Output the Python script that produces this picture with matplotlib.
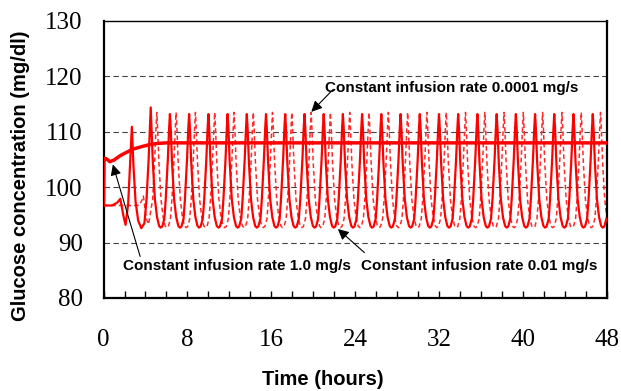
import numpy as np
import matplotlib
matplotlib.use('Agg')
import matplotlib.pyplot as plt

# 1.0 mg/s : smooth rise to steady state
t_10 = [0.0, 0.05, 0.1, 0.3, 0.6, 1.0, 1.6, 2.2, 2.85, 3.6, 4.4, 5.2, 6.0, 8.0, 48.0]
g_10 = [96.7, 104.8, 105.2, 105.1, 104.6, 104.9, 105.7, 106.3, 106.9, 107.3, 107.7, 107.9, 108.0, 108.0, 108.0]

# 0.01 mg/s : start-up transient, then oscillation
t_001_start = [0.0, 0.8, 1.3, 1.6, 1.9, 2.1, 2.35, 2.55, 2.7, 2.85, 3.05, 3.3, 3.6, 3.9]
g_001_start = [96.7, 96.7, 97.2, 97.9, 94.8, 93.2, 97.0, 105.0, 110.9, 104.0, 97.5, 94.0, 92.6, 93.5]
peaks_001 = [4.5, 6.33, 8.16, 10.0, 11.83, 13.66, 15.49, 17.32, 19.16, 20.99, 22.82, 24.65,
             26.48, 28.32, 30.15, 31.98, 33.81, 35.64, 37.48, 39.31, 41.14, 42.97, 44.8, 46.64]
peak_g_001 = [114.4] + [113.2] * 23

# 0.0001 mg/s : flat start, then oscillation lagging slightly
t_0001_start = [0.0, 3.4, 3.65, 3.8, 4.0, 4.12, 4.3]
g_0001_start = [96.7, 96.7, 97.6, 98.4, 95.5, 94.1, 93.3]
peaks_0001 = [5.08, 6.92, 8.76, 10.6, 12.44, 14.28, 16.11, 17.95, 19.79, 21.63, 23.47, 25.31,
              27.15, 28.99, 30.83, 32.67, 34.51, 36.35, 38.18, 40.02, 41.86, 43.70, 45.54, 47.38]
peak_g_0001 = [113.5] * 24

# one oscillation cycle read around a peak (hours from peak, mg/dl)
pulse_dt = [-0.4, -0.2, -0.08, 0.0, 0.08, 0.2, 0.4, 0.6, 0.8, 0.95, 1.1, 1.3]
pulse_g = [97.8, 105.0, 110.5, None, 110.5, 104.5, 97.8, 94.6, 93.0, 92.7, 92.9, 94.3]


def build(t0, g0, peaks, heights):
    t = list(t0)
    g = list(g0)
    for tp, h in zip(peaks, heights):
        for dt, v in zip(pulse_dt, pulse_g):
            t.append(tp + dt)
            g.append(h if v is None else v)
    return t, g


t_001, g_001 = build(t_001_start, g_001_start, peaks_001, peak_g_001)
t_0001, g_0001 = build(t_0001_start, g_0001_start, peaks_0001, peak_g_0001)

fig = plt.figure(figsize=(6.21, 3.91), dpi=100)
ax = fig.add_axes([0.1667, 0.2379, 0.8108, 0.7084])

for y in [90, 100, 110, 120]:
    ax.axhline(y, color='#444444', linestyle=(0, (5, 3)), linewidth=0.8, zorder=1)

ax.plot(t_0001, g_0001, color='#ff2a2a', linestyle=(0, (3, 2)), linewidth=1.1, zorder=2)
ax.plot(t_001, g_001, color='red', linewidth=1.6, zorder=3)
ax.plot(t_10, g_10, color='red', linewidth=2.5, zorder=4)

ax.set_xlim(0, 48)
ax.set_ylim(80, 130)
ax.set_xticks(np.arange(0, 49, 8))
ax.set_xticks(np.arange(0, 49, 2), minor=True)
ax.set_yticks(np.arange(80, 131, 10))
ax.tick_params(axis='x', which='both', direction='in', length=5, width=1, pad=22)
ax.tick_params(axis='x', which='minor', labelbottom=False)
ax.tick_params(axis='y', length=0, pad=15)
for lab in ax.get_xticklabels() + ax.get_yticklabels():
    lab.set_fontfamily('Liberation Serif')
    lab.set_fontsize(18)

for side in ['left', 'bottom', 'right']:
    ax.spines[side].set_linewidth(1.6)
ax.spines['top'].set_linewidth(1.0)

ax.set_ylabel('Glucose concentration (mg/dl)', fontsize=14.5, fontweight='bold',
              family='Liberation Sans', va='center')
ax.yaxis.set_label_coords(-0.165, 0.44)
ax.set_xlabel('Time (hours)', fontsize=14.5, fontweight='bold', family='Liberation Sans', va='center')
ax.xaxis.set_label_coords(0.436, -0.296)

txt = dict(fontsize=11, fontweight='bold', family='Liberation Sans', va='center')
arrow = dict(arrowstyle='-|>', color='black', lw=0.8, mutation_scale=16, shrinkA=0, shrinkB=0)

ax.text(21.1, 117.9, 'Constant infusion rate 0.0001 mg/s', ha='left', **txt)
ax.annotate('', xy=(19.81, 113.6), xytext=(21.86, 117.6), arrowprops=arrow)

ax.text(1.87, 85.7, 'Constant infusion rate 1.0 mg/s', ha='left', **txt)
ax.annotate('', xy=(0.89, 104.1), xytext=(3.49, 87.5), arrowprops=arrow)

ax.text(24.56, 85.7, 'Constant infusion rate 0.01 mg/s', ha='left', **txt)
ax.annotate('', xy=(22.34, 92.45), xytext=(24.87, 88.2), arrowprops=arrow)

plt.savefig('out.png', dpi=100)
